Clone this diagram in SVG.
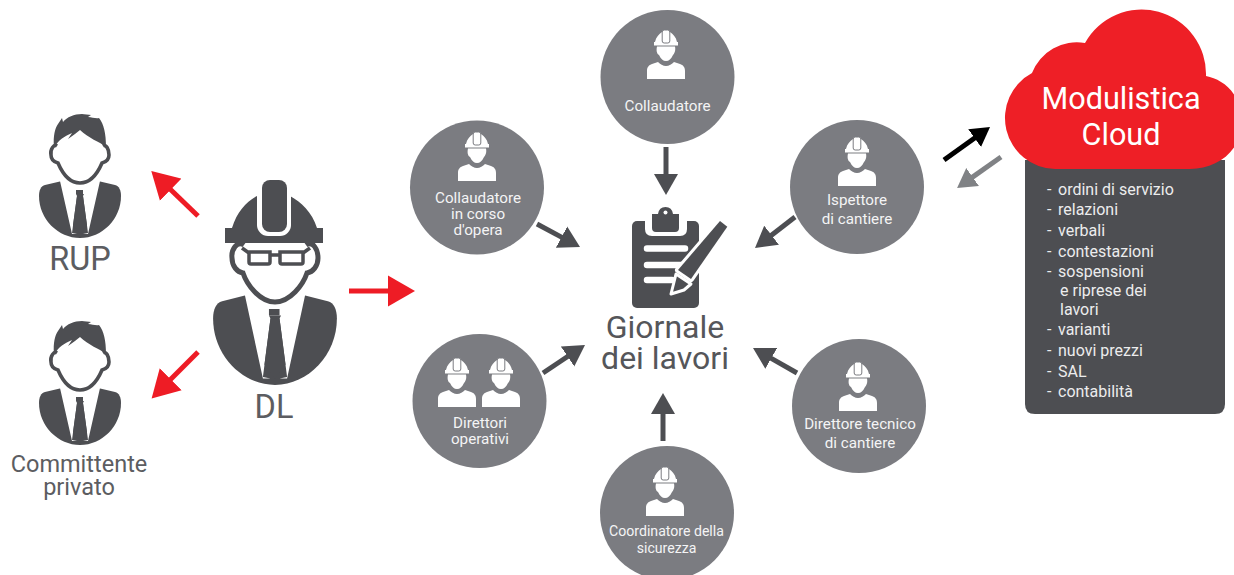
<svg xmlns="http://www.w3.org/2000/svg" width="1234" height="575" viewBox="0 0 1234 575">
<style>
text{font-family:Roboto,"Liberation Sans",sans-serif;text-anchor:middle}
.c{fill:#7b7c81}
.d{fill:#4d4e52}
.w{fill:#fff}
.t{fill:#f4f4f5;font-size:15.2px}
.t2{font-size:14.1px}
.big{fill:#5c5d61;font-size:32.500px}
.mid{fill:#5c5d61;font-size:23.500px}
.gl{fill:#55565a;font-size:32px}
.cl{fill:#fff;font-size:30.600px}
.li{fill:#ececed;font-size:16px;text-anchor:start}
.a{fill:none;stroke-width:5}
.ar{stroke:#ee1c25}.ad{stroke:#4d4e52}.ak{stroke:#000}.ag{stroke:#808285}
</style>
<defs>
<marker id="mr" markerUnits="userSpaceOnUse" markerWidth="30" markerHeight="32" viewBox="0 -16 30 32" refX="1" refY="0" orient="auto"><path d="M0,-15.500L27,0L0,15.500Z" fill="#ee1c25"/></marker>
<marker id="md" markerUnits="userSpaceOnUse" markerWidth="24" markerHeight="26" viewBox="0 -13 24 26" refX="1" refY="0" orient="auto"><path d="M0,-12L21,0L0,12Z" fill="#4d4e52"/></marker>
<marker id="mk" markerUnits="userSpaceOnUse" markerWidth="24" markerHeight="26" viewBox="0 -13 24 26" refX="1" refY="0" orient="auto"><path d="M0,-11L19,0L0,11Z" fill="#000"/></marker>
<marker id="mg" markerUnits="userSpaceOnUse" markerWidth="24" markerHeight="26" viewBox="0 -13 24 26" refX="1" refY="0" orient="auto"><path d="M0,-11L19,0L0,11Z" fill="#808285"/></marker>
<g id="body">
<path class="d" d="M-18,67L-35,71C-39,72-41,76-41,82C-41,105-22,124 0,124C22,124 41,105 41,82C41,76 39,72 35,71L18,67Z"/>
<path class="w" d="M-20,67L-8,120L-3,120L-8,119L-3,82L-4,80L4,80L3,82L8,119L3,120L8,120L20,67L0,60Z"/>
<path class="d" d="M-4,76H3V80H-4ZM-3,82H3L7,111L0,120L-7,111Z"/>
</g>
<g id="person">
<use href="#body"/>
<path class="w" d="M-23,32C-26,30-30,35-29,41C-29,46-26,48-22,49C-19,56-13,69 0,69C13,69 19,56 22,49C26,48 29,46 29,41C29,35 26,30 23,32" stroke="#4d4e52" stroke-width="3.600"/>
<path class="d" d="M-26,33C-27,22-25,14-22,10L-18,4L-17,8C-13,3-6,0 2,0C4,0 9,1 11,1L8,3C12,3 16,5 19,4C24,10 26,20 26,33C20,28 8,24 0,16L-5,20L-12,25L-8,19C-15,22-22,26-25,33Z"/>
</g>
<g id="worker">
<path class="w" d="M-11,12C-10,7-7,4-4,2H4C7,4 10,7 11,12ZM-12,12H12V15.500H-12Z"/>
<rect class="w" x="-3.800" y="0" width="7.600" height="13" rx="2" stroke="#7b7c81" stroke-width="1"/>
<path class="w" d="M-9,16.500H9C10,21 8,24 7,25C5,29 3,31 0,31C-3,31-5,29-7,25C-9,24-10,21-9,16.500Z"/>
<path class="w" d="M-19,49V41C-19,37-17,35-14,34L-8,32C-6,34-3,36 0,36C3,36 6,34 8,32L14,34C17,35 19,37 19,41V49Z"/>
</g>
</defs>
<g id="connectors">
<path class="a ar" d="M198,216L170,189" marker-end="url(#mr)"/>
<path class="a ar" d="M198,352L170,380" marker-end="url(#mr)"/>
<path class="a ar" d="M349,291H389" marker-end="url(#mr)"/>
<path class="a ad" d="M666,147V175" marker-end="url(#md)"/>
<path class="a ad" d="M537,224L562.400,237.600" marker-end="url(#md)"/>
<path class="a ad" d="M795,217L770.800,235.800" marker-end="url(#md)"/>
<path class="a ad" d="M543,373L568.400,356" marker-end="url(#md)"/>
<path class="a ad" d="M797,373L770.400,357.900" marker-end="url(#md)"/>
<path class="a ad" d="M663,441V413" marker-end="url(#md)"/>
<path class="a ak" d="M944,160L975.400,137.500" marker-end="url(#mk)"/>
<path class="a ag" d="M1001,157L971.800,177.600" marker-end="url(#mg)"/>
</g>
<g id="rup"><use href="#person" transform="translate(80,114)"/><text class="big" x="80" y="270">RUP</text></g>
<g id="committente"><use href="#person" transform="translate(80,321)"/><text class="mid" x="79" y="472">Committente</text><text class="mid" x="79" y="495">privato</text></g>
<g id="dl">
<use href="#body" transform="translate(275,189) scale(1.510,1.580)"/>
<g transform="translate(275,0)">
<path class="w" stroke="#4d4e52" stroke-width="5" d="M-31,245C-38,240-44,250-43,258C-43,266-38,272-32,273C-28,285-15,302 0,302C15,302 28,285 32,273C38,272 43,266 43,258C43,250 38,240 31,245"/>
<path class="d" d="M-43,228C-38,212-29,202-18,196H15C26,202 37,212 42,228ZM-50,228H48V243H-50Z"/>
<rect class="w" x="-18" y="170" width="34" height="66" rx="11"/>
<rect class="d" x="-13" y="180" width="25" height="52" rx="8"/>
<path fill="none" stroke="#4d4e52" stroke-width="3.500" d="M-33,248L-26,253M-26,252H-5V262Q-5,264-7,264H-24Q-26,264-26,262ZM5,252H28V262Q28,264 26,264H7Q5,264 5,262ZM-5,255H5M28,253L35,248"/>
</g>
<text class="big" x="274" y="418">DL</text>
</g>
<g id="collaudatore"><circle class="c" cx="667.500" cy="77" r="67"/><use href="#worker" transform="translate(666,30)"/><text class="t" x="667.500" y="110.500">Collaudatore</text></g>
<g id="collaudatore-corso"><circle class="c" cx="477" cy="187.500" r="67"/><use href="#worker" transform="translate(477,132)"/><text class="t" x="478" y="203">Collaudatore</text><text class="t" x="478" y="219">in corso</text><text class="t" x="478" y="235">d'opera</text></g>
<g id="ispettore"><circle class="c" cx="857" cy="187" r="67"/><use href="#worker" transform="translate(857,137)"/><text class="t" x="857" y="205">Ispettore</text><text class="t" x="857" y="224">di cantiere</text></g>
<g id="direttori"><circle class="c" cx="479.500" cy="401" r="67"/><use href="#worker" transform="translate(457,358)"/><use href="#worker" transform="translate(501,358)"/><text class="t" x="480" y="428">Direttori</text><text class="t" x="480" y="444">operativi</text></g>
<g id="coordinatore"><circle class="c" cx="667" cy="513" r="67"/><use href="#worker" transform="translate(665,467)"/><text class="t t2" x="666.500" y="536">Coordinatore della</text><text class="t t2" x="666.500" y="553">sicurezza</text></g>
<g id="tecnico"><circle class="c" cx="859" cy="406" r="67"/><use href="#worker" transform="translate(858,362)"/><text class="t" x="860" y="429">Direttore tecnico</text><text class="t" x="860" y="448">di cantiere</text></g>
<g id="giornale">
<rect class="d" x="632" y="221" width="67" height="87" rx="5"/>
<path class="w" d="M645,221V229Q645,236 652,236H680Q687,236 687,229V221Z"/>
<path class="d" d="M652,214H658Q659,207 665.500,207Q672,207 673,214H679V228Q679,232 675,232H656Q652,232 652,228Z"/>
<circle class="w" cx="665.500" cy="212.500" r="2"/>
<path d="M647,248.500H685M647,265H685M647,280H672" stroke="#fff" stroke-width="6.500" stroke-linecap="round"/>
<path d="M720,221L727.300,226.700L691,279L678,270Z" fill="#4d4e52" stroke="#fff" stroke-width="6" stroke-linejoin="round" paint-order="stroke"/>
<path d="M676,274L691,284L684,290L671,294Z" fill="#4d4e52" stroke="#fff" stroke-width="3" stroke-linejoin="round"/>
<text class="gl" x="665" y="338">Giornale</text><text class="gl" x="665" y="369">dei lavori</text>
</g>
<g id="cloud">
<path class="d" d="M1025,160H1225V404Q1225,414 1215,414H1035Q1025,414 1025,404Z"/>
<path fill="#ee1f26" d="M1055,169A51,51 0 0 1 1032,73A48,48 0 0 1 1085,43A64.500,64.500 0 0 1 1206,76C1222,79 1240,92 1242,119C1243,150 1218,169 1190,169Z"/>
<text class="cl" x="1121" y="109">Modulistica</text><text class="cl" x="1121" y="145">Cloud</text>
<text class="li" y="194.500"><tspan x="1047">-</tspan><tspan x="1058">ordini di servizio</tspan></text>
<text class="li" y="215"><tspan x="1047">-</tspan><tspan x="1058">relazioni</tspan></text>
<text class="li" y="236"><tspan x="1047">-</tspan><tspan x="1058">verbali</tspan></text>
<text class="li" y="257"><tspan x="1047">-</tspan><tspan x="1058">contestazioni</tspan></text>
<text class="li" y="277"><tspan x="1047">-</tspan><tspan x="1058">sospensioni</tspan></text>
<text class="li" x="1060" y="296">e riprese dei</text>
<text class="li" x="1060" y="315">lavori</text>
<text class="li" y="335"><tspan x="1047">-</tspan><tspan x="1058">varianti</tspan></text>
<text class="li" y="356"><tspan x="1047">-</tspan><tspan x="1058">nuovi prezzi</tspan></text>
<text class="li" y="377"><tspan x="1047">-</tspan><tspan x="1058">SAL</tspan></text>
<text class="li" y="397"><tspan x="1047">-</tspan><tspan x="1058">contabilità</tspan></text>
</g>
</svg>
